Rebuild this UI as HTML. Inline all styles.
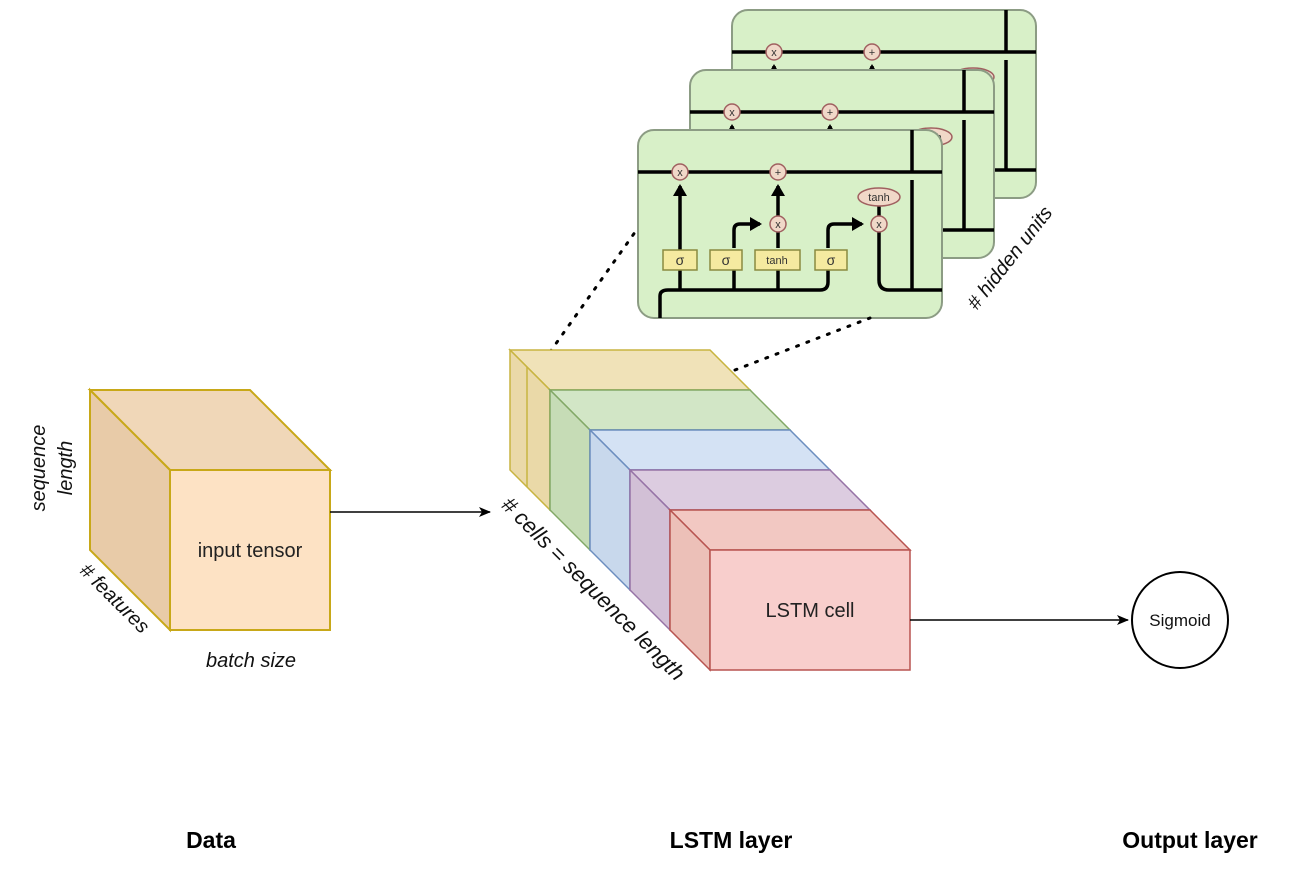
<!DOCTYPE html>
<html><head><meta charset="utf-8"><style>
html,body{margin:0;padding:0;background:#fff;}
svg{display:block;}
text{font-family:"Liberation Sans",sans-serif;}
</style></head><body>
<svg width="1312" height="882" viewBox="0 0 1312 882" xmlns="http://www.w3.org/2000/svg">
<defs>
<marker id="ah" markerWidth="12" markerHeight="10" refX="11" refY="5" orient="auto" markerUnits="userSpaceOnUse"><path d="M0,0 L12,5 L0,10 L3,5 Z" fill="#000"/></marker>
<marker id="bh" markerWidth="14" markerHeight="14" refX="10" refY="7" orient="auto" markerUnits="userSpaceOnUse"><path d="M0,0 L12,7 L0,14 Z" fill="#000"/></marker>
<g id="card">
<rect x="0" y="0" width="304" height="188" rx="16" fill="#d8f0c8" stroke="#8c9c84" stroke-width="2"/>
<g stroke="#000" stroke-width="3.5" fill="none">
<line x1="0" y1="42" x2="304" y2="42"/>
<line x1="42" y1="120" x2="42" y2="56" marker-end="url(#bh)"/>
<line x1="140" y1="96" x2="140" y2="56" marker-end="url(#bh)"/>
<path d="M96,118 V100 Q96,94 102,94 H122" marker-end="url(#bh)"/>
<line x1="140" y1="118" x2="140" y2="100"/>
<path d="M190,118 V100 Q190,94 196,94 H224" marker-end="url(#bh)"/>
<line x1="241" y1="86" x2="241" y2="76"/>
<path d="M241,102 V150 Q241,160 251,160 H304"/>
<line x1="274" y1="0" x2="274" y2="42"/>
<line x1="274" y1="50" x2="274" y2="160"/>
<path d="M22,188 V166 Q22,160 30,160 H182 Q190,160 190,152 V138"/>
<line x1="42" y1="160" x2="42" y2="140"/>
<line x1="96" y1="160" x2="96" y2="140"/>
<line x1="140" y1="160" x2="140" y2="140"/>
</g>
<g fill="#f0d8c8" stroke="#a06060" stroke-width="1.5">
<circle cx="42" cy="42" r="8"/><circle cx="140" cy="42" r="8"/><circle cx="140" cy="94" r="8"/><circle cx="241" cy="94" r="8"/>
<ellipse cx="241" cy="67" rx="21" ry="9"/>
</g>
<g fill="#f5eaa0" stroke="#8a8a40" stroke-width="1.5">
<rect x="25" y="120" width="34" height="20"/><rect x="72" y="120" width="32" height="20"/><rect x="117" y="120" width="45" height="20"/><rect x="177" y="120" width="32" height="20"/>
</g>
<g font-size="11" text-anchor="middle" fill="#333">
<text x="42" y="46">x</text><text x="140" y="46">+</text><text x="140" y="98">x</text><text x="241" y="98">x</text><text x="241" y="71">tanh</text>
<text x="42" y="135" font-size="14">σ</text><text x="88" y="135" font-size="14">σ</text><text x="139" y="134">tanh</text><text x="193" y="135" font-size="14">σ</text>
</g>
</g>
</defs>

<!-- LSTM unrolled cards -->
<use href="#card" x="732" y="10"/>
<use href="#card" x="690" y="70"/>
<use href="#card" x="638" y="130"/>

<!-- dotted lines -->
<line x1="550" y1="352" x2="638" y2="228" stroke="#000" stroke-width="3" stroke-dasharray="2,9" stroke-linecap="round"/>
<line x1="735" y1="370" x2="870" y2="318" stroke="#000" stroke-width="3" stroke-dasharray="2,9" stroke-linecap="round"/>

<text transform="translate(1015,262) rotate(-52)" font-size="20" font-style="italic" text-anchor="middle" fill="#111">#  hidden units</text>

<!-- input tensor cube -->
<g stroke="#c8a818" stroke-width="2">
<polygon points="90,390 250,390 330,470 170,470" fill="#f0d7b8"/>
<polygon points="90,390 170,470 170,630 90,550" fill="#e8cba8"/>
<rect x="170" y="470" width="160" height="160" fill="#fde2c4"/>
</g>
<text x="250" y="557" font-size="20" text-anchor="middle" fill="#222">input tensor</text>
<text transform="translate(45,468) rotate(-90)" font-size="20" font-style="italic" text-anchor="middle" fill="#111">sequence</text>
<text transform="translate(72,468) rotate(-90)" font-size="20" font-style="italic" text-anchor="middle" fill="#111">length</text>
<text transform="translate(110,603) rotate(45)" font-size="20" font-style="italic" text-anchor="middle" fill="#111"># features</text>
<text x="251" y="667" font-size="20" font-style="italic" text-anchor="middle" fill="#111">batch size</text>

<line x1="330" y1="512" x2="490" y2="512" stroke="#000" stroke-width="1.5" marker-end="url(#ah)"/>

<!-- LSTM stacked cubes -->
<g stroke-width="1.5">
<g stroke="#c8b440">
<polygon points="510,350 710,350 750,390 550,390" fill="#f0e2b8"/>
<polygon points="510,350 550,390 550,510 510,470" fill="#ead9a8"/>
<line x1="527" y1="367" x2="527" y2="487"/>
<rect x="550" y="390" width="200" height="120" fill="#f3e6bc"/>
</g>
<g stroke="#82a866">
<polygon points="550,390 750,390 790,430 590,430" fill="#d2e6c6"/>
<polygon points="550,390 590,430 590,550 550,510" fill="#c6dcb6"/>
<rect x="590" y="430" width="200" height="120" fill="#d5e8cc"/>
</g>
<g stroke="#6c8ebf">
<polygon points="590,430 790,430 830,470 630,470" fill="#d4e2f4"/>
<polygon points="590,430 630,470 630,590 590,550" fill="#c8d8ec"/>
<rect x="630" y="470" width="200" height="120" fill="#d6e4f6"/>
</g>
<g stroke="#9673a6">
<polygon points="630,470 830,470 870,510 670,510" fill="#dccce0"/>
<polygon points="630,470 670,510 670,630 630,590" fill="#d2c0d6"/>
<rect x="670" y="510" width="200" height="120" fill="#dfd0e4"/>
</g>
<g stroke="#b85450">
<polygon points="670,510 870,510 910,550 710,550" fill="#f2c8c2"/>
<polygon points="670,510 710,550 710,670 670,630" fill="#ecc0b8"/>
<rect x="710" y="550" width="200" height="120" fill="#f8cecc"/>
</g>
</g>
<text x="810" y="617" font-size="20" text-anchor="middle" fill="#222">LSTM cell</text>
<text transform="translate(588,594) rotate(45)" font-size="22" font-style="italic" text-anchor="middle" fill="#111"># cells = sequence length</text>

<line x1="910" y1="620" x2="1128" y2="620" stroke="#000" stroke-width="1.5" marker-end="url(#ah)"/>
<circle cx="1180" cy="620" r="48" fill="#fff" stroke="#000" stroke-width="2"/>
<text x="1180" y="626" font-size="17" text-anchor="middle" fill="#111">Sigmoid</text>

<g font-size="23" font-weight="bold" text-anchor="middle" fill="#000">
<text x="211" y="848">Data</text>
<text x="731" y="848">LSTM layer</text>
<text x="1190" y="848">Output layer</text>
</g>
</svg>
</body></html>
